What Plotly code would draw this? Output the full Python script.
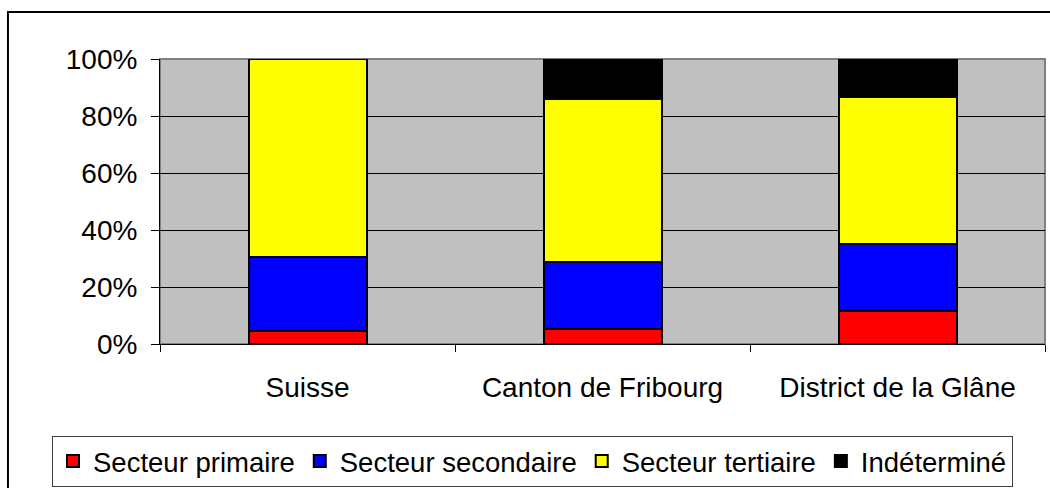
import plotly.graph_objects as go

regions = ["Suisse", "Canton de Fribourg", "District de la Glâne"]
primaire = [4.6, 5.4, 11.6]
secondaire = [25.8, 23.4, 23.5]
tertiaire = [69.6, 57.1, 51.5]
indetermine = [0.0, 14.1, 13.4]

series = [
    ("Secteur primaire", primaire, "#ff0000"),
    ("Secteur secondaire", secondaire, "#0000ff"),
    ("Secteur tertiaire", tertiaire, "#ffff00"),
    ("Indéterminé", indetermine, "#000000"),
]

fig = go.Figure()
for name, vals, col in series:
    fig.add_trace(go.Bar(
        x=regions, y=vals, name=name,
        marker=dict(color=col, line=dict(color="black", width=2)),
        width=0.4,
    ))

font = "Liberation Sans, Arial, sans-serif"

fig.update_layout(
    width=1050, height=488,
    barmode="stack",
    paper_bgcolor="white",
    plot_bgcolor="#c0c0c0",
    margin=dict(l=160, r=5, t=59, b=144, autoexpand=False),
    font=dict(family=font, size=28, color="black"),
    showlegend=True,
    legend=dict(
        orientation="h",
        x=-0.122, xanchor="left",
        y=-0.5, yanchor="bottom",
        bordercolor="#404040", borderwidth=1,
        font=dict(size=27.5),
        traceorder="normal",
        itemclick=False,
    ),
    xaxis=dict(
        tickson="boundaries", ticks="outside", ticklen=7, tickcolor="black",
        showgrid=False, showline=True, linecolor="black", linewidth=1,
        ticklabelstandoff=18,
    ),
    yaxis=dict(
        range=[0, 100], dtick=20, ticksuffix="%",
        ticks="outside", ticklen=8, tickcolor="black",
        showgrid=True, gridcolor="black", gridwidth=1,
        showline=True, linecolor="black", linewidth=1,
        zeroline=False, ticklabelstandoff=8,
    ),
    shapes=[
        dict(type="rect", xref="paper", yref="paper", x0=0, x1=1, y0=0, y1=1,
             line=dict(color="#808080", width=2), layer="below"),
        dict(type="rect", xref="paper", yref="paper",
             x0=-0.1718, x1=1.05, y0=-0.6, y1=1.165,
             line=dict(color="black", width=2)),
    ],
)

fig.write_html("out.html", config={"displayModeBar": False},
               post_script="document.body.style.margin='0';")
